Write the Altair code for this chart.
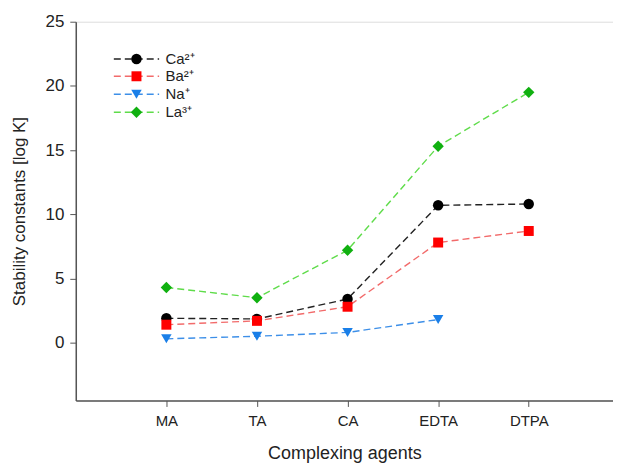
import altair as alt
import pandas as pd

agents = ["MA", "TA", "CA", "EDTA", "DTPA"]
agent_pos = [1, 2, 3, 4, 5]
ca = [1.9, 1.85, 3.4, 10.7, 10.8]
ba = [1.4, 1.7, 2.8, 7.8, 8.7]
na = [0.3, 0.5, 0.8, 1.8, None]
la = [4.3, 3.5, 7.2, 15.3, 19.5]

series_names = ["Ca²⁺", "Ba²⁺", "Na⁺", "La³⁺"]
series_vals = [ca, ba, na, la]
line_colors = ["#222222", "#f26b6b", "#3d8fe8", "#5fdc4a"]
marker_colors = ["#000000", "#ff0000", "#1a7fe8", "#10b010"]
shapes = ["circle", "square", "triangle-down", "diamond"]
sizes = [110, 100, 110, 130]

rows = []
for name, vals in zip(series_names, series_vals):
    for a, p, v in zip(agents, agent_pos, vals):
        if v is not None:
            rows.append({"series": name, "agent": a, "pos": p, "value": v})
df = pd.DataFrame(rows)

# legend in data coordinates
leg_y = [22.1, 20.75, 19.35, 17.95]
leg_rows = []
for i, name in enumerate(series_names):
    leg_rows.append({"series": name, "y": leg_y[i], "x1": 0.42, "x2": 0.92, "xm": 0.67, "xt": 0.99})
leg = pd.DataFrame(leg_rows)

xscale = alt.Scale(domain=[0, 5.93], nice=False, zero=False)
yscale = alt.Scale(domain=[-4.5, 25], nice=False, zero=False)

base_font = "Liberation Sans"

xaxis = alt.Axis(values=agent_pos, labelExpr="['','MA','TA','CA','EDTA','DTPA'][datum.value]",
                 title="Complexing agents", grid=False, tickSize=6, labelPadding=7,
                 labelFontSize=15, titleFontSize=18, titlePadding=16, titleFontWeight="normal",
                 labelFont=base_font, titleFont=base_font, domainColor="#555", tickColor="#555",
                 labelColor="#222", titleColor="#222", domainWidth=1.5)
yaxis = alt.Axis(values=[0, 5, 10, 15, 20, 25], title="Stability constants [log K]", grid=False,
                 tickSize=6, labelPadding=6, labelFontSize=17, titleFontSize=17,
                 titlePadding=17, titleFontWeight="normal", labelFont=base_font, titleFont=base_font,
                 domainColor="#555", tickColor="#555", labelColor="#222", titleColor="#222",
                 domainWidth=1.5)

layers = []
for i, name in enumerate(series_names):
    sub = df[df.series == name]
    line = alt.Chart(sub).mark_line(color=line_colors[i], strokeDash=[7, 4], strokeWidth=1.4).encode(
        x=alt.X("pos:Q", scale=xscale, axis=xaxis),
        y=alt.Y("value:Q", scale=yscale, axis=yaxis),
    )
    pts = alt.Chart(sub).mark_point(shape=shapes[i], filled=True, color=marker_colors[i], size=sizes[i], opacity=1).encode(
        x=alt.X("pos:Q", scale=xscale),
        y=alt.Y("value:Q", scale=yscale),
    )
    lsub = leg[leg.series == name]
    lline = alt.Chart(lsub).mark_rule(color=line_colors[i], strokeDash=[7, 4], strokeWidth=1.4).encode(
        x=alt.X("x1:Q", scale=xscale), x2="x2:Q", y=alt.Y("y:Q", scale=yscale))
    lpt = alt.Chart(lsub).mark_point(shape=shapes[i], filled=True, color=marker_colors[i], size=sizes[i], opacity=1).encode(
        x=alt.X("xm:Q", scale=xscale), y=alt.Y("y:Q", scale=yscale))
    ltxt = alt.Chart(lsub).mark_text(align="left", baseline="middle", fontSize=15, font=base_font, color="#222").encode(
        x=alt.X("xt:Q", scale=xscale), y=alt.Y("y:Q", scale=yscale), text="series:N")
    layers += [line, pts, lline, lpt, ltxt]

chart = alt.layer(*layers).properties(
    width=539, height=380,
    padding={"left": 2, "top": 4, "right": 0, "bottom": 0},
).configure_view(
    stroke=None
).configure(background="white")

chart.save("out.html", embed_options={"renderer": "svg", "actions": False})
